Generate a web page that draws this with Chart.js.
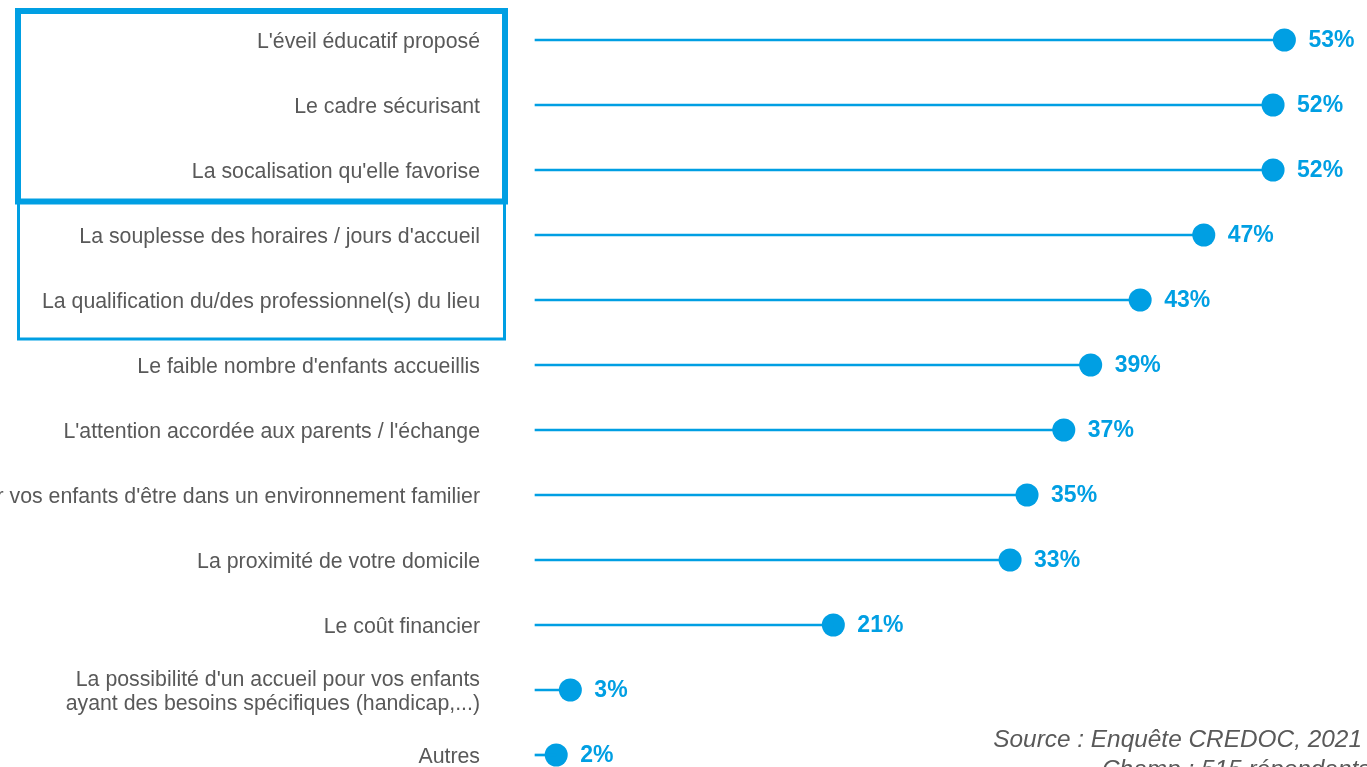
<!DOCTYPE html>
<html>
<head>
<meta charset="utf-8">
<script src="https://cdn.jsdelivr.net/npm/chart.js@4/dist/chart.umd.min.js"></script>
<style>
  html, body { margin: 0; padding: 0; background: #ffffff; overflow: hidden; }
  #c { display: block; }
</style>
</head>
<body>
<canvas id="c" width="1367" height="767"></canvas>
<script>
// ---- Data ----
const categories = [
  "L'éveil éducatif proposé",
  "Le cadre sécurisant",
  "La socalisation qu'elle favorise",
  "La souplesse des horaires / jours d'accueil",
  "La qualification du/des professionnel(s) du lieu",
  "Le faible nombre d'enfants accueillis",
  "L'attention accordée aux parents / l'échange",
  "La possibilité pour vos enfants d'être dans un environnement familier",
  "La proximité de votre domicile",
  "Le coût financier",
  ["La possibilité d'un accueil pour vos enfants", "ayant des besoins spécifiques (handicap,...)"],
  "Autres"
];
const values = [53.0, 52.2, 52.2, 47.3, 42.8, 39.3, 37.4, 34.8, 33.6, 21.1, 2.5, 1.5];
const valueLabels = ["53%", "52%", "52%", "47%", "43%", "39%", "37%", "35%", "33%", "21%", "3%", "2%"];
const sourceLines = ["Source : Enquête CREDOC, 2021", "Champ : 515 répondants"];

const BLUE = '#009FE3';
const GREY = '#595959';

const valueLabelPlugin = {
  id: 'valueLabels',
  afterDatasetsDraw(chart) {
    const meta = chart.getDatasetMeta(1);
    const ctx = chart.ctx;
    ctx.save();
    ctx.font = 'bold 23px "Liberation Sans", Arial, sans-serif';
    ctx.fillStyle = BLUE;
    ctx.textAlign = 'left';
    ctx.textBaseline = 'middle';
    meta.data.forEach((pt, i) => {
      ctx.fillText(valueLabels[i], pt.x + 24, pt.y + 1);
    });
    ctx.restore();
  }
};

const boxesPlugin = {
  id: 'boxes',
  afterDraw(chart) {
    const ctx = chart.ctx;
    const y = chart.scales.y;
    const p = (i) => y.getPixelForValue(i);
    ctx.save();
    ctx.strokeStyle = BLUE;
    // second (thin) box
    const b2top = (p(2) + p(3)) / 2;
    const b2bot = p(4) + 39;
    ctx.lineWidth = 3;
    ctx.strokeRect(18.5, b2top, 486, b2bot - b2top);
    // first (thick) box
    const b1top = p(0) - 29;
    const b1bot = (p(2) + p(3)) / 2 - 1;
    ctx.lineWidth = 6;
    ctx.strokeRect(18, b1top, 487, b1bot - b1top);
    // source text
    ctx.fillStyle = GREY;
    ctx.font = 'italic 24.4px "Liberation Sans", Arial, sans-serif';
    ctx.textBaseline = 'alphabetic';
    ctx.textAlign = 'right';
    ctx.fillText(sourceLines[0], 1362, 747);
    ctx.textAlign = 'left';
    ctx.fillText(sourceLines[1], 1102, 777);
    ctx.restore();
  }
};

new Chart(document.getElementById('c'), {
  data: {
    labels: categories,
    datasets: [
      {
        type: 'bar',
        data: values,
        backgroundColor: BLUE,
        borderWidth: 0,
        barThickness: 2,
        clip: false
      },
      {
        type: 'line',
        data: values,
        showLine: false,
        pointRadius: 11.5,
        pointHoverRadius: 11.5,
        pointBackgroundColor: BLUE,
        pointBorderWidth: 0,
        borderColor: BLUE,
        clip: false
      }
    ]
  },
  options: {
    indexAxis: 'y',
    responsive: false,
    animation: false,
    events: [],
    layout: { padding: { top: 40, bottom: 12, left: 0, right: 0 } },
    plugins: {
      legend: { display: false },
      tooltip: { enabled: false }
    },
    scales: {
      x: {
        display: false,
        min: 0,
        max: 58.03
      },
      y: {
        type: 'category',
        offset: false,
        grid: { display: false, drawTicks: false },
        border: { display: false },
        ticks: {
          autoSkip: false,
          padding: 55,
          labelOffset: 2,
          color: GREY,
          font: { family: '"Liberation Sans", Arial, sans-serif', size: 21.3, lineHeight: 1.1 }
        },
        afterFit(scale) {
          scale.width = 535;
          scale.paddingTop = 0;
          scale.paddingBottom = 0;
        }
      }
    }
  },
  plugins: [valueLabelPlugin, boxesPlugin]
});
</script>
</body>
</html>
